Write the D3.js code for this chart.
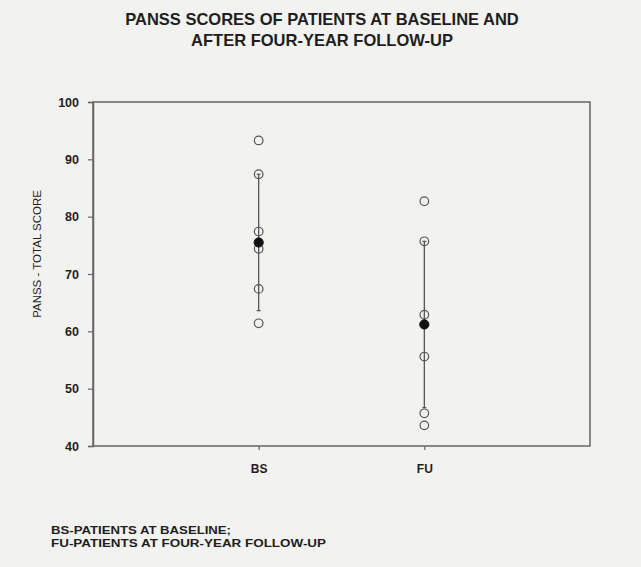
<!DOCTYPE html>
<html>
<head>
<meta charset="utf-8">
<script src="https://cdn.jsdelivr.net/npm/d3@7"></script>
<style>
  html, body { margin: 0; padding: 0; background: #f2f2f1; }
  svg { display: block; }
</style>
</head>
<body>
<svg id="chart" width="641" height="567"></svg>
<script>
// Groups on the x axis
const groups = ["BS", "FU"];
// Individual PANSS total scores per group
const bsScores = [93.3, 87.4, 77.4, 74.4, 67.4, 61.4];
const fuScores = [82.7, 75.7, 62.9, 55.6, 45.7, 43.6];
// Group means and standard deviations
const groupMeans = [75.5, 61.2];
const groupSD = [11.9, 14.5];
// Y axis ticks
const yTicks = [40, 50, 60, 70, 80, 90, 100];
const titleLines = ["PANSS SCORES OF PATIENTS AT BASELINE AND", "AFTER FOUR-YEAR FOLLOW-UP"];
const notes = ["BS-PATIENTS AT BASELINE;", "FU-PATIENTS AT FOUR-YEAR FOLLOW-UP"];

const FONT = "'Liberation Sans', Arial, Helvetica, sans-serif";
const INK = "#1e1e1e";
const LINE = "#666";

const svg = d3.select("#chart");
const W = 641, H = 567;
svg.append("rect").attr("width", W).attr("height", H).attr("fill", "#f2f2f1");

const plot = { left: 93, right: 590, top: 102, bottom: 446 };

const x = d3.scaleLinear().domain([0, 3]).range([plot.left, plot.right]);
const y = d3.scaleLinear().domain([40, 100]).range([plot.bottom, plot.top]);

// Title
svg.append("g").selectAll("text").data(titleLines).join("text")
  .attr("x", 322).attr("y", (d, i) => 25 + i * 21)
  .attr("text-anchor", "middle")
  .attr("font-family", FONT).attr("font-weight", "bold")
  .attr("font-size", 16.5).attr("fill", INK)
  .text(d => d);

// Frame
svg.append("rect")
  .attr("x", plot.left).attr("y", plot.top)
  .attr("width", plot.right - plot.left).attr("height", plot.bottom - plot.top)
  .attr("fill", "none").attr("stroke", LINE).attr("stroke-width", 1.5);

// Y axis
const yAxis = svg.append("g")
  .attr("transform", `translate(${plot.left},0)`)
  .call(d3.axisLeft(y).tickValues(yTicks).tickSize(5).tickPadding(9));
yAxis.select(".domain").attr("stroke", LINE).attr("stroke-width", 1.5);
yAxis.selectAll(".tick line").attr("stroke", LINE).attr("stroke-width", 1.2);
yAxis.selectAll(".tick text").attr("font-size", 12.5).attr("fill", INK)
  .attr("font-family", FONT).attr("font-weight", "bold");

// X axis
const xAxis = svg.append("g")
  .attr("transform", `translate(0,${plot.bottom})`)
  .call(d3.axisBottom(x).tickValues([1, 2]).tickFormat(d => groups[d - 1]).tickSize(4).tickPadding(14));
xAxis.select(".domain").remove();
xAxis.selectAll(".tick line").attr("stroke", LINE).attr("stroke-width", 1.2);
xAxis.selectAll(".tick text").attr("font-size", 12).attr("fill", INK)
  .attr("font-family", FONT).attr("font-weight", "bold");

// Y axis title
svg.append("text")
  .attr("transform", `translate(41,${(y(62) + y(85)) / 2}) rotate(-90)`)
  .attr("text-anchor", "middle")
  .attr("font-family", FONT).attr("font-size", 11.5).attr("fill", INK)
  .text("PANSS - TOTAL SCORE");

const series = [bsScores, fuScores];

// Mean ± SD whiskers
svg.append("g").selectAll("line").data(groupMeans).join("line")
  .attr("x1", (d, i) => x(i + 1)).attr("x2", (d, i) => x(i + 1))
  .attr("y1", (d, i) => y(d + groupSD[i])).attr("y2", (d, i) => y(d - groupSD[i]))
  .attr("stroke", "#555").attr("stroke-width", 1.3);
svg.append("g").selectAll("line").data(groupMeans.flatMap((d, i) => [
    { i, v: d + groupSD[i] }, { i, v: d - groupSD[i] }]))
  .join("line")
  .attr("x1", d => x(d.i + 1) - 2).attr("x2", d => x(d.i + 1) + 2)
  .attr("y1", d => y(d.v)).attr("y2", d => y(d.v))
  .attr("stroke", "#555").attr("stroke-width", 1.2);

// Individual scores
series.forEach((vals, i) => {
  svg.append("g").selectAll("circle").data(vals).join("circle")
    .attr("cx", x(i + 1)).attr("cy", d => y(d)).attr("r", 4.3)
    .attr("fill", "none").attr("stroke", "#555").attr("stroke-width", 1.2);
});

// Group means
svg.append("g").selectAll("circle").data(groupMeans).join("circle")
  .attr("cx", (d, i) => x(i + 1)).attr("cy", d => y(d)).attr("r", 4.6)
  .attr("fill", "#111").attr("stroke", "#111");

// Footnote
svg.append("g").selectAll("text").data(notes).join("text")
  .attr("x", 51).attr("y", (d, i) => 534 + i * 13)
  .attr("font-family", FONT).attr("font-weight", "bold")
  .attr("font-size", 11).attr("fill", INK)
  .attr("textLength", (d, i) => i === 0 ? 180 : 275)
  .attr("lengthAdjust", "spacingAndGlyphs")
  .text(d => d);
</script>
</body>
</html>
